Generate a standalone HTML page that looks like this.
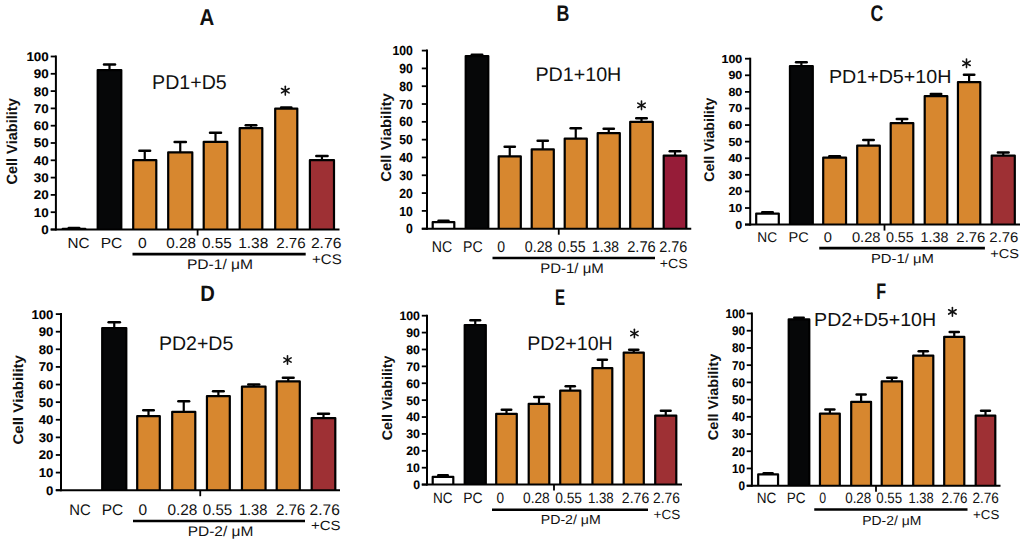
<!DOCTYPE html>
<html><head><meta charset="utf-8"><style>
html,body{margin:0;padding:0;background:#fff;}
body{width:1024px;height:540px;overflow:hidden;}
.t{stroke:#000;stroke-width:0.1px;}
svg{display:block;text-rendering:geometricPrecision;font-family:"Liberation Sans",sans-serif;font-kerning:none;}
</style></head><body>
<svg width="1024" height="540" viewBox="0 0 1024 540">
<rect width="1024" height="540" fill="#fff"/>
<line x1="74.00" y1="229.20" x2="74.00" y2="228.20" stroke="#000" stroke-width="2.2" stroke-linecap="butt"/>
<line x1="68.76" y1="228.00" x2="79.24" y2="228.00" stroke="#000" stroke-width="2.5" stroke-linecap="round"/>
<rect x="62.70" y="228.80" width="22.60" height="0.70" fill="#ffffff"/>
<path d="M62.70,229.50V228.80H85.30V229.50" fill="none" stroke="#000" stroke-width="2.2" stroke-linejoin="round"/>
<line x1="109.50" y1="70.50" x2="109.50" y2="64.75" stroke="#000" stroke-width="2.2" stroke-linecap="butt"/>
<line x1="104.00" y1="64.55" x2="115.00" y2="64.55" stroke="#000" stroke-width="2.5" stroke-linecap="round"/>
<rect x="97.70" y="70.10" width="23.60" height="159.40" fill="#060708"/>
<path d="M97.70,229.50V70.10H121.30V229.50" fill="none" stroke="#000" stroke-width="2.2" stroke-linejoin="round"/>
<line x1="144.75" y1="160.50" x2="144.75" y2="151.00" stroke="#000" stroke-width="2.2" stroke-linecap="butt"/>
<line x1="139.38" y1="150.80" x2="150.12" y2="150.80" stroke="#000" stroke-width="2.5" stroke-linecap="round"/>
<rect x="133.20" y="160.10" width="23.10" height="69.40" fill="#d7872f"/>
<path d="M133.20,229.50V160.10H156.30V229.50" fill="none" stroke="#000" stroke-width="2.2" stroke-linejoin="round"/>
<line x1="180.25" y1="152.75" x2="180.25" y2="142.25" stroke="#000" stroke-width="2.2" stroke-linecap="butt"/>
<line x1="174.62" y1="142.05" x2="185.88" y2="142.05" stroke="#000" stroke-width="2.5" stroke-linecap="round"/>
<rect x="168.20" y="152.35" width="24.10" height="77.15" fill="#d7872f"/>
<path d="M168.20,229.50V152.35H192.30V229.50" fill="none" stroke="#000" stroke-width="2.2" stroke-linejoin="round"/>
<line x1="215.50" y1="142.25" x2="215.50" y2="133.00" stroke="#000" stroke-width="2.2" stroke-linecap="butt"/>
<line x1="210.00" y1="132.80" x2="221.00" y2="132.80" stroke="#000" stroke-width="2.5" stroke-linecap="round"/>
<rect x="203.70" y="141.85" width="23.60" height="87.65" fill="#d7872f"/>
<path d="M203.70,229.50V141.85H227.30V229.50" fill="none" stroke="#000" stroke-width="2.2" stroke-linejoin="round"/>
<line x1="251.00" y1="128.50" x2="251.00" y2="125.50" stroke="#000" stroke-width="2.2" stroke-linecap="butt"/>
<line x1="245.76" y1="125.30" x2="256.24" y2="125.30" stroke="#000" stroke-width="2.5" stroke-linecap="round"/>
<rect x="239.70" y="128.10" width="22.60" height="101.40" fill="#d7872f"/>
<path d="M239.70,229.50V128.10H262.30V229.50" fill="none" stroke="#000" stroke-width="2.2" stroke-linejoin="round"/>
<line x1="286.25" y1="109.00" x2="286.25" y2="107.75" stroke="#000" stroke-width="2.2" stroke-linecap="butt"/>
<line x1="281.14" y1="107.55" x2="291.36" y2="107.55" stroke="#000" stroke-width="2.5" stroke-linecap="round"/>
<rect x="275.20" y="108.60" width="22.10" height="120.90" fill="#d7872f"/>
<path d="M275.20,229.50V108.60H297.30V229.50" fill="none" stroke="#000" stroke-width="2.2" stroke-linejoin="round"/>
<line x1="321.95" y1="160.60" x2="321.95" y2="156.20" stroke="#000" stroke-width="2.2" stroke-linecap="butt"/>
<line x1="316.32" y1="156.00" x2="327.58" y2="156.00" stroke="#000" stroke-width="2.5" stroke-linecap="round"/>
<rect x="309.90" y="160.20" width="24.10" height="69.30" fill="#9e3034"/>
<path d="M309.90,229.50V160.20H334.00V229.50" fill="none" stroke="#000" stroke-width="2.2" stroke-linejoin="round"/>
<line x1="55.90" y1="55.50" x2="55.90" y2="230.50" stroke="#000" stroke-width="2" stroke-linecap="butt"/>
<line x1="50.70" y1="229.50" x2="55.90" y2="229.50" stroke="#000" stroke-width="1.8" stroke-linecap="butt"/>
<text class="t" transform="translate(41.34,233.92) scale(1.0678,1)" font-size="12.57" font-weight="bold">0</text>
<line x1="50.70" y1="212.20" x2="55.90" y2="212.20" stroke="#000" stroke-width="1.8" stroke-linecap="butt"/>
<text class="t" transform="translate(33.87,216.62) scale(1.0678,1)" font-size="12.57" font-weight="bold">10</text>
<line x1="50.70" y1="194.90" x2="55.90" y2="194.90" stroke="#000" stroke-width="1.8" stroke-linecap="butt"/>
<text class="t" transform="translate(33.87,199.32) scale(1.0678,1)" font-size="12.57" font-weight="bold">20</text>
<line x1="50.70" y1="177.60" x2="55.90" y2="177.60" stroke="#000" stroke-width="1.8" stroke-linecap="butt"/>
<text class="t" transform="translate(33.87,182.02) scale(1.0678,1)" font-size="12.57" font-weight="bold">30</text>
<line x1="50.70" y1="160.30" x2="55.90" y2="160.30" stroke="#000" stroke-width="1.8" stroke-linecap="butt"/>
<text class="t" transform="translate(33.87,164.72) scale(1.0678,1)" font-size="12.57" font-weight="bold">40</text>
<line x1="50.70" y1="143.00" x2="55.90" y2="143.00" stroke="#000" stroke-width="1.8" stroke-linecap="butt"/>
<text class="t" transform="translate(33.87,147.42) scale(1.0678,1)" font-size="12.57" font-weight="bold">50</text>
<line x1="50.70" y1="125.70" x2="55.90" y2="125.70" stroke="#000" stroke-width="1.8" stroke-linecap="butt"/>
<text class="t" transform="translate(33.87,130.12) scale(1.0678,1)" font-size="12.57" font-weight="bold">60</text>
<line x1="50.70" y1="108.40" x2="55.90" y2="108.40" stroke="#000" stroke-width="1.8" stroke-linecap="butt"/>
<text class="t" transform="translate(33.87,112.82) scale(1.0678,1)" font-size="12.57" font-weight="bold">70</text>
<line x1="50.70" y1="91.10" x2="55.90" y2="91.10" stroke="#000" stroke-width="1.8" stroke-linecap="butt"/>
<text class="t" transform="translate(33.87,95.52) scale(1.0678,1)" font-size="12.57" font-weight="bold">80</text>
<line x1="50.70" y1="73.80" x2="55.90" y2="73.80" stroke="#000" stroke-width="1.8" stroke-linecap="butt"/>
<text class="t" transform="translate(33.87,78.22) scale(1.0678,1)" font-size="12.57" font-weight="bold">90</text>
<line x1="50.70" y1="56.50" x2="55.90" y2="56.50" stroke="#000" stroke-width="1.8" stroke-linecap="butt"/>
<text class="t" transform="translate(26.41,60.92) scale(1.0678,1)" font-size="12.57" font-weight="bold">100</text>
<line x1="50.70" y1="229.50" x2="339.50" y2="229.50" stroke="#000" stroke-width="2" stroke-linecap="butt"/>
<line x1="197.60" y1="229.50" x2="197.60" y2="235.50" stroke="#000" stroke-width="1.8" stroke-linecap="butt"/>
<text transform="translate(67.45,247.86) scale(1.0486,1)" font-size="14.55" font-weight="normal" fill="#111">NC</text>
<text transform="translate(100.63,247.86) scale(1.0671,1)" font-size="14.55" font-weight="normal" fill="#111">PC</text>
<text transform="translate(137.89,247.86) scale(1.0785,1)" font-size="14.55" font-weight="normal" fill="#111">0</text>
<text transform="translate(166.30,247.86) scale(1.0474,1)" font-size="14.55" font-weight="normal" fill="#111">0.28</text>
<text transform="translate(202.00,247.86) scale(1.0503,1)" font-size="14.55" font-weight="normal" fill="#111">0.55</text>
<text transform="translate(238.22,247.86) scale(1.0612,1)" font-size="14.55" font-weight="normal" fill="#111">1.38</text>
<text transform="translate(276.24,247.86) scale(1.0392,1)" font-size="14.55" font-weight="normal" fill="#111">2.76</text>
<text transform="translate(310.91,247.86) scale(1.0763,1)" font-size="14.55" font-weight="normal" fill="#111">2.76</text>
<text transform="translate(312.07,263.81) scale(1.0736,1)" font-size="13.98" font-weight="normal" fill="#111">+CS</text>
<line x1="132.50" y1="254.20" x2="305.70" y2="254.20" stroke="#000" stroke-width="2.7" stroke-linecap="butt"/>
<text transform="translate(186.92,269.20) scale(1.1137,1)" font-size="14.00" font-weight="normal" fill="#111">PD-1/ μM</text>
<text transform="translate(199.39,25.10) scale(0.8892,1)" font-size="22.97" font-weight="bold" fill="#111">A</text>
<text transform="translate(152.09,88.56) scale(0.9839,1)" font-size="19.92" font-weight="normal" fill="#111">PD1+D5</text>
<line x1="285.30" y1="86.30" x2="285.30" y2="95.10" stroke="#111" stroke-width="1.6" stroke-linecap="round"/>
<line x1="281.49" y1="88.50" x2="289.11" y2="92.90" stroke="#111" stroke-width="1.6" stroke-linecap="round"/>
<line x1="289.11" y1="88.50" x2="281.49" y2="92.90" stroke="#111" stroke-width="1.6" stroke-linecap="round"/>
<text transform="translate(16.80,184.00) rotate(-90) scale(0.9815,1) translate(-0.61,0)" font-size="14.80" font-weight="bold" fill="#111">Cell Viability</text>
<line x1="443.50" y1="222.50" x2="443.50" y2="221.00" stroke="#000" stroke-width="2.2" stroke-linecap="butt"/>
<line x1="438.52" y1="220.80" x2="448.48" y2="220.80" stroke="#000" stroke-width="2.5" stroke-linecap="round"/>
<rect x="432.70" y="222.10" width="21.60" height="6.60" fill="#ffffff"/>
<path d="M432.70,228.70V222.10H454.30V228.70" fill="none" stroke="#000" stroke-width="2.2" stroke-linejoin="round"/>
<line x1="477.00" y1="56.50" x2="477.00" y2="55.00" stroke="#000" stroke-width="2.2" stroke-linecap="butt"/>
<line x1="471.76" y1="54.80" x2="482.24" y2="54.80" stroke="#000" stroke-width="2.5" stroke-linecap="round"/>
<rect x="465.70" y="56.10" width="22.60" height="172.60" fill="#060708"/>
<path d="M465.70,228.70V56.10H488.30V228.70" fill="none" stroke="#000" stroke-width="2.2" stroke-linejoin="round"/>
<line x1="509.75" y1="156.75" x2="509.75" y2="147.00" stroke="#000" stroke-width="2.2" stroke-linecap="butt"/>
<line x1="504.64" y1="146.80" x2="514.86" y2="146.80" stroke="#000" stroke-width="2.5" stroke-linecap="round"/>
<rect x="498.70" y="156.35" width="22.10" height="72.35" fill="#d7872f"/>
<path d="M498.70,228.70V156.35H520.80V228.70" fill="none" stroke="#000" stroke-width="2.2" stroke-linejoin="round"/>
<line x1="542.75" y1="149.75" x2="542.75" y2="141.00" stroke="#000" stroke-width="2.2" stroke-linecap="butt"/>
<line x1="537.64" y1="140.80" x2="547.86" y2="140.80" stroke="#000" stroke-width="2.5" stroke-linecap="round"/>
<rect x="531.70" y="149.35" width="22.10" height="79.35" fill="#d7872f"/>
<path d="M531.70,228.70V149.35H553.80V228.70" fill="none" stroke="#000" stroke-width="2.2" stroke-linejoin="round"/>
<line x1="575.75" y1="139.00" x2="575.75" y2="128.50" stroke="#000" stroke-width="2.2" stroke-linecap="butt"/>
<line x1="570.64" y1="128.30" x2="580.86" y2="128.30" stroke="#000" stroke-width="2.5" stroke-linecap="round"/>
<rect x="564.70" y="138.60" width="22.10" height="90.10" fill="#d7872f"/>
<path d="M564.70,228.70V138.60H586.80V228.70" fill="none" stroke="#000" stroke-width="2.2" stroke-linejoin="round"/>
<line x1="608.75" y1="133.50" x2="608.75" y2="129.00" stroke="#000" stroke-width="2.2" stroke-linecap="butt"/>
<line x1="603.64" y1="128.80" x2="613.86" y2="128.80" stroke="#000" stroke-width="2.5" stroke-linecap="round"/>
<rect x="597.70" y="133.10" width="22.10" height="95.60" fill="#d7872f"/>
<path d="M597.70,228.70V133.10H619.80V228.70" fill="none" stroke="#000" stroke-width="2.2" stroke-linejoin="round"/>
<line x1="641.50" y1="122.25" x2="641.50" y2="118.50" stroke="#000" stroke-width="2.2" stroke-linecap="butt"/>
<line x1="636.26" y1="118.30" x2="646.74" y2="118.30" stroke="#000" stroke-width="2.5" stroke-linecap="round"/>
<rect x="630.20" y="121.85" width="22.60" height="106.85" fill="#d7872f"/>
<path d="M630.20,228.70V121.85H652.80V228.70" fill="none" stroke="#000" stroke-width="2.2" stroke-linejoin="round"/>
<line x1="675.00" y1="156.00" x2="675.00" y2="151.50" stroke="#000" stroke-width="2.2" stroke-linecap="butt"/>
<line x1="669.76" y1="151.30" x2="680.24" y2="151.30" stroke="#000" stroke-width="2.5" stroke-linecap="round"/>
<rect x="663.70" y="155.60" width="22.60" height="73.10" fill="#961c38"/>
<path d="M663.70,228.70V155.60H686.30V228.70" fill="none" stroke="#000" stroke-width="2.2" stroke-linejoin="round"/>
<line x1="427.00" y1="49.60" x2="427.00" y2="229.70" stroke="#000" stroke-width="2" stroke-linecap="butt"/>
<line x1="421.80" y1="228.70" x2="427.00" y2="228.70" stroke="#000" stroke-width="1.8" stroke-linecap="butt"/>
<text class="t" transform="translate(406.06,233.32) scale(0.9294,1)" font-size="13.14" font-weight="bold">0</text>
<line x1="421.80" y1="210.89" x2="427.00" y2="210.89" stroke="#000" stroke-width="1.8" stroke-linecap="butt"/>
<text class="t" transform="translate(399.27,215.51) scale(0.9294,1)" font-size="13.14" font-weight="bold">10</text>
<line x1="421.80" y1="193.08" x2="427.00" y2="193.08" stroke="#000" stroke-width="1.8" stroke-linecap="butt"/>
<text class="t" transform="translate(399.27,197.70) scale(0.9294,1)" font-size="13.14" font-weight="bold">20</text>
<line x1="421.80" y1="175.27" x2="427.00" y2="175.27" stroke="#000" stroke-width="1.8" stroke-linecap="butt"/>
<text class="t" transform="translate(399.27,179.89) scale(0.9294,1)" font-size="13.14" font-weight="bold">30</text>
<line x1="421.80" y1="157.46" x2="427.00" y2="157.46" stroke="#000" stroke-width="1.8" stroke-linecap="butt"/>
<text class="t" transform="translate(399.27,162.08) scale(0.9294,1)" font-size="13.14" font-weight="bold">40</text>
<line x1="421.80" y1="139.65" x2="427.00" y2="139.65" stroke="#000" stroke-width="1.8" stroke-linecap="butt"/>
<text class="t" transform="translate(399.27,144.27) scale(0.9294,1)" font-size="13.14" font-weight="bold">50</text>
<line x1="421.80" y1="121.84" x2="427.00" y2="121.84" stroke="#000" stroke-width="1.8" stroke-linecap="butt"/>
<text class="t" transform="translate(399.27,126.46) scale(0.9294,1)" font-size="13.14" font-weight="bold">60</text>
<line x1="421.80" y1="104.03" x2="427.00" y2="104.03" stroke="#000" stroke-width="1.8" stroke-linecap="butt"/>
<text class="t" transform="translate(399.27,108.65) scale(0.9294,1)" font-size="13.14" font-weight="bold">70</text>
<line x1="421.80" y1="86.22" x2="427.00" y2="86.22" stroke="#000" stroke-width="1.8" stroke-linecap="butt"/>
<text class="t" transform="translate(399.27,90.84) scale(0.9294,1)" font-size="13.14" font-weight="bold">80</text>
<line x1="421.80" y1="68.41" x2="427.00" y2="68.41" stroke="#000" stroke-width="1.8" stroke-linecap="butt"/>
<text class="t" transform="translate(399.27,73.03) scale(0.9294,1)" font-size="13.14" font-weight="bold">90</text>
<line x1="421.80" y1="50.60" x2="427.00" y2="50.60" stroke="#000" stroke-width="1.8" stroke-linecap="butt"/>
<text class="t" transform="translate(392.48,55.22) scale(0.9294,1)" font-size="13.14" font-weight="bold">100</text>
<line x1="421.80" y1="228.70" x2="691.25" y2="228.70" stroke="#000" stroke-width="2" stroke-linecap="butt"/>
<line x1="558.75" y1="228.70" x2="558.75" y2="234.70" stroke="#000" stroke-width="1.8" stroke-linecap="butt"/>
<text transform="translate(431.74,251.85) scale(0.9089,1)" font-size="15.54" font-weight="normal" fill="#111">NC</text>
<text transform="translate(462.99,251.85) scale(0.9104,1)" font-size="15.54" font-weight="normal" fill="#111">PC</text>
<text transform="translate(497.15,251.85) scale(0.9021,1)" font-size="15.54" font-weight="normal" fill="#111">0</text>
<text transform="translate(524.74,251.85) scale(0.9186,1)" font-size="15.54" font-weight="normal" fill="#111">0.28</text>
<text transform="translate(558.05,251.85) scale(0.9110,1)" font-size="15.54" font-weight="normal" fill="#111">0.55</text>
<text transform="translate(592.04,251.85) scale(0.8915,1)" font-size="15.54" font-weight="normal" fill="#111">1.38</text>
<text transform="translate(627.16,251.85) scale(0.9453,1)" font-size="15.54" font-weight="normal" fill="#111">2.76</text>
<text transform="translate(659.17,251.85) scale(0.9279,1)" font-size="15.54" font-weight="normal" fill="#111">2.76</text>
<text transform="translate(659.81,268.32) scale(1.0666,1)" font-size="13.28" font-weight="normal" fill="#111">+CS</text>
<line x1="492.50" y1="258.00" x2="655.00" y2="258.00" stroke="#000" stroke-width="2.7" stroke-linecap="butt"/>
<text transform="translate(540.17,273.00) scale(1.0717,1)" font-size="14.00" font-weight="normal" fill="#111">PD-1/ μM</text>
<text transform="translate(556.50,21.00) scale(0.7933,1)" font-size="22.53" font-weight="bold" fill="#111">B</text>
<text transform="translate(535.38,81.16) scale(1.0041,1)" font-size="19.63" font-weight="normal" fill="#111">PD1+10H</text>
<line x1="641.50" y1="101.00" x2="641.50" y2="109.60" stroke="#111" stroke-width="1.6" stroke-linecap="round"/>
<line x1="637.78" y1="103.15" x2="645.22" y2="107.45" stroke="#111" stroke-width="1.6" stroke-linecap="round"/>
<line x1="645.22" y1="103.15" x2="637.78" y2="107.45" stroke="#111" stroke-width="1.6" stroke-linecap="round"/>
<text transform="translate(390.70,181.20) rotate(-90) scale(1.0419,1) translate(-0.59,0)" font-size="14.30" font-weight="bold" fill="#111">Cell Viability</text>
<line x1="767.50" y1="214.00" x2="767.50" y2="212.50" stroke="#000" stroke-width="2.2" stroke-linecap="butt"/>
<line x1="762.26" y1="212.30" x2="772.74" y2="212.30" stroke="#000" stroke-width="2.5" stroke-linecap="round"/>
<rect x="756.20" y="213.60" width="22.60" height="11.00" fill="#ffffff"/>
<path d="M756.20,224.60V213.60H778.80V224.60" fill="none" stroke="#000" stroke-width="2.2" stroke-linejoin="round"/>
<line x1="801.38" y1="66.50" x2="801.38" y2="62.50" stroke="#000" stroke-width="2.2" stroke-linecap="butt"/>
<line x1="796.07" y1="62.30" x2="806.68" y2="62.30" stroke="#000" stroke-width="2.5" stroke-linecap="round"/>
<rect x="789.95" y="66.10" width="22.85" height="158.50" fill="#060708"/>
<path d="M789.95,224.60V66.10H812.80V224.60" fill="none" stroke="#000" stroke-width="2.2" stroke-linejoin="round"/>
<line x1="834.62" y1="158.00" x2="834.62" y2="156.50" stroke="#000" stroke-width="2.2" stroke-linecap="butt"/>
<line x1="829.32" y1="156.30" x2="839.93" y2="156.30" stroke="#000" stroke-width="2.5" stroke-linecap="round"/>
<rect x="823.20" y="157.60" width="22.85" height="67.00" fill="#d7872f"/>
<path d="M823.20,224.60V157.60H846.05V224.60" fill="none" stroke="#000" stroke-width="2.2" stroke-linejoin="round"/>
<line x1="868.50" y1="146.00" x2="868.50" y2="140.25" stroke="#000" stroke-width="2.2" stroke-linecap="butt"/>
<line x1="863.26" y1="140.05" x2="873.74" y2="140.05" stroke="#000" stroke-width="2.5" stroke-linecap="round"/>
<rect x="857.20" y="145.60" width="22.60" height="79.00" fill="#d7872f"/>
<path d="M857.20,224.60V145.60H879.80V224.60" fill="none" stroke="#000" stroke-width="2.2" stroke-linejoin="round"/>
<line x1="902.00" y1="123.50" x2="902.00" y2="119.25" stroke="#000" stroke-width="2.2" stroke-linecap="butt"/>
<line x1="896.76" y1="119.05" x2="907.24" y2="119.05" stroke="#000" stroke-width="2.5" stroke-linecap="round"/>
<rect x="890.70" y="123.10" width="22.60" height="101.50" fill="#d7872f"/>
<path d="M890.70,224.60V123.10H913.30V224.60" fill="none" stroke="#000" stroke-width="2.2" stroke-linejoin="round"/>
<line x1="936.00" y1="96.50" x2="936.00" y2="94.25" stroke="#000" stroke-width="2.2" stroke-linecap="butt"/>
<line x1="930.76" y1="94.05" x2="941.24" y2="94.05" stroke="#000" stroke-width="2.5" stroke-linecap="round"/>
<rect x="924.70" y="96.10" width="22.60" height="128.50" fill="#d7872f"/>
<path d="M924.70,224.60V96.10H947.30V224.60" fill="none" stroke="#000" stroke-width="2.2" stroke-linejoin="round"/>
<line x1="969.12" y1="82.50" x2="969.12" y2="75.00" stroke="#000" stroke-width="2.2" stroke-linecap="butt"/>
<line x1="963.95" y1="74.80" x2="974.30" y2="74.80" stroke="#000" stroke-width="2.5" stroke-linecap="round"/>
<rect x="957.95" y="82.10" width="22.35" height="142.50" fill="#d7872f"/>
<path d="M957.95,224.60V82.10H980.30V224.60" fill="none" stroke="#000" stroke-width="2.2" stroke-linejoin="round"/>
<line x1="1003.25" y1="156.00" x2="1003.25" y2="152.75" stroke="#000" stroke-width="2.2" stroke-linecap="butt"/>
<line x1="997.88" y1="152.55" x2="1008.62" y2="152.55" stroke="#000" stroke-width="2.5" stroke-linecap="round"/>
<rect x="991.70" y="155.60" width="23.10" height="69.00" fill="#9e3034"/>
<path d="M991.70,224.60V155.60H1014.80V224.60" fill="none" stroke="#000" stroke-width="2.2" stroke-linejoin="round"/>
<line x1="750.20" y1="57.70" x2="750.20" y2="225.60" stroke="#000" stroke-width="2" stroke-linecap="butt"/>
<line x1="745.00" y1="224.60" x2="750.20" y2="224.60" stroke="#000" stroke-width="1.8" stroke-linecap="butt"/>
<text class="t" transform="translate(735.33,228.53) scale(1.0762,1)" font-size="11.58" font-weight="bold">0</text>
<line x1="745.00" y1="208.01" x2="750.20" y2="208.01" stroke="#000" stroke-width="1.8" stroke-linecap="butt"/>
<text class="t" transform="translate(728.40,211.94) scale(1.0762,1)" font-size="11.58" font-weight="bold">10</text>
<line x1="745.00" y1="191.42" x2="750.20" y2="191.42" stroke="#000" stroke-width="1.8" stroke-linecap="butt"/>
<text class="t" transform="translate(728.40,195.35) scale(1.0762,1)" font-size="11.58" font-weight="bold">20</text>
<line x1="745.00" y1="174.83" x2="750.20" y2="174.83" stroke="#000" stroke-width="1.8" stroke-linecap="butt"/>
<text class="t" transform="translate(728.40,178.76) scale(1.0762,1)" font-size="11.58" font-weight="bold">30</text>
<line x1="745.00" y1="158.24" x2="750.20" y2="158.24" stroke="#000" stroke-width="1.8" stroke-linecap="butt"/>
<text class="t" transform="translate(728.40,162.17) scale(1.0762,1)" font-size="11.58" font-weight="bold">40</text>
<line x1="745.00" y1="141.65" x2="750.20" y2="141.65" stroke="#000" stroke-width="1.8" stroke-linecap="butt"/>
<text class="t" transform="translate(728.40,145.58) scale(1.0762,1)" font-size="11.58" font-weight="bold">50</text>
<line x1="745.00" y1="125.06" x2="750.20" y2="125.06" stroke="#000" stroke-width="1.8" stroke-linecap="butt"/>
<text class="t" transform="translate(728.40,128.99) scale(1.0762,1)" font-size="11.58" font-weight="bold">60</text>
<line x1="745.00" y1="108.47" x2="750.20" y2="108.47" stroke="#000" stroke-width="1.8" stroke-linecap="butt"/>
<text class="t" transform="translate(728.40,112.40) scale(1.0762,1)" font-size="11.58" font-weight="bold">70</text>
<line x1="745.00" y1="91.88" x2="750.20" y2="91.88" stroke="#000" stroke-width="1.8" stroke-linecap="butt"/>
<text class="t" transform="translate(728.40,95.81) scale(1.0762,1)" font-size="11.58" font-weight="bold">80</text>
<line x1="745.00" y1="75.29" x2="750.20" y2="75.29" stroke="#000" stroke-width="1.8" stroke-linecap="butt"/>
<text class="t" transform="translate(728.40,79.22) scale(1.0762,1)" font-size="11.58" font-weight="bold">90</text>
<line x1="745.00" y1="58.70" x2="750.20" y2="58.70" stroke="#000" stroke-width="1.8" stroke-linecap="butt"/>
<text class="t" transform="translate(721.47,62.63) scale(1.0762,1)" font-size="11.58" font-weight="bold">100</text>
<line x1="745.00" y1="224.60" x2="1020.00" y2="224.60" stroke="#000" stroke-width="2" stroke-linecap="butt"/>
<line x1="884.50" y1="224.60" x2="884.50" y2="230.60" stroke="#000" stroke-width="1.8" stroke-linecap="butt"/>
<text transform="translate(757.27,242.26) scale(0.9731,1)" font-size="14.12" font-weight="normal" fill="#111">NC</text>
<text transform="translate(788.46,242.26) scale(1.0293,1)" font-size="14.12" font-weight="normal" fill="#111">PC</text>
<text transform="translate(823.63,242.26) scale(1.0368,1)" font-size="14.12" font-weight="normal" fill="#111">0</text>
<text transform="translate(851.93,242.26) scale(1.0409,1)" font-size="14.12" font-weight="normal" fill="#111">0.28</text>
<text transform="translate(885.94,242.26) scale(1.0135,1)" font-size="14.12" font-weight="normal" fill="#111">0.55</text>
<text transform="translate(920.61,242.26) scale(1.0116,1)" font-size="14.12" font-weight="normal" fill="#111">1.38</text>
<text transform="translate(956.35,242.26) scale(1.0551,1)" font-size="14.12" font-weight="normal" fill="#111">2.76</text>
<text transform="translate(989.35,242.26) scale(1.0589,1)" font-size="14.12" font-weight="normal" fill="#111">2.76</text>
<text transform="translate(990.19,258.02) scale(1.1349,1)" font-size="12.85" font-weight="normal" fill="#111">+CS</text>
<line x1="819.25" y1="248.20" x2="984.90" y2="248.20" stroke="#000" stroke-width="2.7" stroke-linecap="butt"/>
<text transform="translate(870.93,262.50) scale(1.1400,1)" font-size="13.00" font-weight="normal" fill="#111">PD-1/ μM</text>
<text transform="translate(870.47,20.60) scale(0.7891,1)" font-size="22.49" font-weight="bold" fill="#111">C</text>
<text transform="translate(828.89,83.47) scale(1.0397,1)" font-size="18.93" font-weight="normal" fill="#111">PD1+D5+10H</text>
<line x1="966.50" y1="59.00" x2="966.50" y2="67.60" stroke="#111" stroke-width="1.6" stroke-linecap="round"/>
<line x1="962.78" y1="61.15" x2="970.22" y2="65.45" stroke="#111" stroke-width="1.6" stroke-linecap="round"/>
<line x1="970.22" y1="61.15" x2="962.78" y2="65.45" stroke="#111" stroke-width="1.6" stroke-linecap="round"/>
<text transform="translate(713.90,181.10) rotate(-90) scale(1.0085,1) translate(-0.57,0)" font-size="14.00" font-weight="bold" fill="#111">Cell Viability</text>
<line x1="114.25" y1="328.50" x2="114.25" y2="322.50" stroke="#000" stroke-width="2.2" stroke-linecap="butt"/>
<line x1="108.62" y1="322.30" x2="119.88" y2="322.30" stroke="#000" stroke-width="2.5" stroke-linecap="round"/>
<rect x="102.20" y="328.10" width="24.10" height="162.10" fill="#060708"/>
<path d="M102.20,490.20V328.10H126.30V490.20" fill="none" stroke="#000" stroke-width="2.2" stroke-linejoin="round"/>
<line x1="148.50" y1="416.50" x2="148.50" y2="410.50" stroke="#000" stroke-width="2.2" stroke-linecap="butt"/>
<line x1="143.26" y1="410.30" x2="153.74" y2="410.30" stroke="#000" stroke-width="2.5" stroke-linecap="round"/>
<rect x="137.20" y="416.10" width="22.60" height="74.10" fill="#d7872f"/>
<path d="M137.20,490.20V416.10H159.80V490.20" fill="none" stroke="#000" stroke-width="2.2" stroke-linejoin="round"/>
<line x1="183.75" y1="412.25" x2="183.75" y2="401.50" stroke="#000" stroke-width="2.2" stroke-linecap="butt"/>
<line x1="178.38" y1="401.30" x2="189.12" y2="401.30" stroke="#000" stroke-width="2.5" stroke-linecap="round"/>
<rect x="172.20" y="411.85" width="23.10" height="78.35" fill="#d7872f"/>
<path d="M172.20,490.20V411.85H195.30V490.20" fill="none" stroke="#000" stroke-width="2.2" stroke-linejoin="round"/>
<line x1="218.38" y1="396.50" x2="218.38" y2="391.50" stroke="#000" stroke-width="2.2" stroke-linecap="butt"/>
<line x1="213.07" y1="391.30" x2="223.68" y2="391.30" stroke="#000" stroke-width="2.5" stroke-linecap="round"/>
<rect x="206.95" y="396.10" width="22.85" height="94.10" fill="#d7872f"/>
<path d="M206.95,490.20V396.10H229.80V490.20" fill="none" stroke="#000" stroke-width="2.2" stroke-linejoin="round"/>
<line x1="253.75" y1="387.00" x2="253.75" y2="384.75" stroke="#000" stroke-width="2.2" stroke-linecap="butt"/>
<line x1="248.25" y1="384.55" x2="259.25" y2="384.55" stroke="#000" stroke-width="2.5" stroke-linecap="round"/>
<rect x="241.95" y="386.60" width="23.60" height="103.60" fill="#d7872f"/>
<path d="M241.95,490.20V386.60H265.55V490.20" fill="none" stroke="#000" stroke-width="2.2" stroke-linejoin="round"/>
<line x1="288.25" y1="381.75" x2="288.25" y2="378.00" stroke="#000" stroke-width="2.2" stroke-linecap="butt"/>
<line x1="282.88" y1="377.80" x2="293.62" y2="377.80" stroke="#000" stroke-width="2.5" stroke-linecap="round"/>
<rect x="276.70" y="381.35" width="23.10" height="108.85" fill="#d7872f"/>
<path d="M276.70,490.20V381.35H299.80V490.20" fill="none" stroke="#000" stroke-width="2.2" stroke-linejoin="round"/>
<line x1="323.50" y1="418.50" x2="323.50" y2="414.00" stroke="#000" stroke-width="2.2" stroke-linecap="butt"/>
<line x1="318.00" y1="413.80" x2="329.00" y2="413.80" stroke="#000" stroke-width="2.5" stroke-linecap="round"/>
<rect x="311.70" y="418.10" width="23.60" height="72.10" fill="#9e3034"/>
<path d="M311.70,490.20V418.10H335.30V490.20" fill="none" stroke="#000" stroke-width="2.2" stroke-linejoin="round"/>
<line x1="61.00" y1="313.10" x2="61.00" y2="491.20" stroke="#000" stroke-width="2" stroke-linecap="butt"/>
<line x1="55.80" y1="490.20" x2="61.00" y2="490.20" stroke="#000" stroke-width="1.8" stroke-linecap="butt"/>
<text class="t" transform="translate(46.07,494.62) scale(1.0475,1)" font-size="12.57" font-weight="bold">0</text>
<line x1="55.80" y1="472.59" x2="61.00" y2="472.59" stroke="#000" stroke-width="1.8" stroke-linecap="butt"/>
<text class="t" transform="translate(38.74,477.01) scale(1.0475,1)" font-size="12.57" font-weight="bold">10</text>
<line x1="55.80" y1="454.98" x2="61.00" y2="454.98" stroke="#000" stroke-width="1.8" stroke-linecap="butt"/>
<text class="t" transform="translate(38.74,459.40) scale(1.0475,1)" font-size="12.57" font-weight="bold">20</text>
<line x1="55.80" y1="437.37" x2="61.00" y2="437.37" stroke="#000" stroke-width="1.8" stroke-linecap="butt"/>
<text class="t" transform="translate(38.74,441.79) scale(1.0475,1)" font-size="12.57" font-weight="bold">30</text>
<line x1="55.80" y1="419.76" x2="61.00" y2="419.76" stroke="#000" stroke-width="1.8" stroke-linecap="butt"/>
<text class="t" transform="translate(38.74,424.18) scale(1.0475,1)" font-size="12.57" font-weight="bold">40</text>
<line x1="55.80" y1="402.15" x2="61.00" y2="402.15" stroke="#000" stroke-width="1.8" stroke-linecap="butt"/>
<text class="t" transform="translate(38.74,406.57) scale(1.0475,1)" font-size="12.57" font-weight="bold">50</text>
<line x1="55.80" y1="384.54" x2="61.00" y2="384.54" stroke="#000" stroke-width="1.8" stroke-linecap="butt"/>
<text class="t" transform="translate(38.74,388.96) scale(1.0475,1)" font-size="12.57" font-weight="bold">60</text>
<line x1="55.80" y1="366.93" x2="61.00" y2="366.93" stroke="#000" stroke-width="1.8" stroke-linecap="butt"/>
<text class="t" transform="translate(38.74,371.35) scale(1.0475,1)" font-size="12.57" font-weight="bold">70</text>
<line x1="55.80" y1="349.32" x2="61.00" y2="349.32" stroke="#000" stroke-width="1.8" stroke-linecap="butt"/>
<text class="t" transform="translate(38.74,353.74) scale(1.0475,1)" font-size="12.57" font-weight="bold">80</text>
<line x1="55.80" y1="331.71" x2="61.00" y2="331.71" stroke="#000" stroke-width="1.8" stroke-linecap="butt"/>
<text class="t" transform="translate(38.74,336.13) scale(1.0475,1)" font-size="12.57" font-weight="bold">90</text>
<line x1="55.80" y1="314.10" x2="61.00" y2="314.10" stroke="#000" stroke-width="1.8" stroke-linecap="butt"/>
<text class="t" transform="translate(31.42,318.52) scale(1.0475,1)" font-size="12.57" font-weight="bold">100</text>
<line x1="55.80" y1="490.20" x2="340.00" y2="490.20" stroke="#000" stroke-width="2" stroke-linecap="butt"/>
<line x1="200.25" y1="490.20" x2="200.25" y2="496.20" stroke="#000" stroke-width="1.8" stroke-linecap="butt"/>
<text transform="translate(69.18,514.75) scale(0.9663,1)" font-size="15.40" font-weight="normal" fill="#111">NC</text>
<text transform="translate(101.63,514.75) scale(1.0083,1)" font-size="15.40" font-weight="normal" fill="#111">PC</text>
<text transform="translate(138.60,514.75) scale(1.0055,1)" font-size="15.40" font-weight="normal" fill="#111">0</text>
<text transform="translate(167.40,514.75) scale(1.0002,1)" font-size="15.40" font-weight="normal" fill="#111">0.28</text>
<text transform="translate(202.81,514.75) scale(0.9820,1)" font-size="15.40" font-weight="normal" fill="#111">0.55</text>
<text transform="translate(238.88,514.75) scale(0.9530,1)" font-size="15.40" font-weight="normal" fill="#111">1.38</text>
<text transform="translate(275.89,514.75) scale(0.9803,1)" font-size="15.40" font-weight="normal" fill="#111">2.76</text>
<text transform="translate(309.62,514.75) scale(1.0066,1)" font-size="15.40" font-weight="normal" fill="#111">2.76</text>
<text transform="translate(310.97,530.32) scale(1.1308,1)" font-size="13.28" font-weight="normal" fill="#111">+CS</text>
<line x1="133.00" y1="521.00" x2="305.00" y2="521.00" stroke="#000" stroke-width="2.7" stroke-linecap="butt"/>
<text transform="translate(187.63,536.00) scale(1.1067,1)" font-size="14.00" font-weight="normal" fill="#111">PD-2/ μM</text>
<text transform="translate(200.15,301.10) scale(0.9092,1)" font-size="22.24" font-weight="bold" fill="#111">D</text>
<text transform="translate(158.89,350.36) scale(0.9970,1)" font-size="19.63" font-weight="normal" fill="#111">PD2+D5</text>
<line x1="287.50" y1="355.80" x2="287.50" y2="364.20" stroke="#111" stroke-width="1.6" stroke-linecap="round"/>
<line x1="283.86" y1="357.90" x2="291.14" y2="362.10" stroke="#111" stroke-width="1.6" stroke-linecap="round"/>
<line x1="291.14" y1="357.90" x2="283.86" y2="362.10" stroke="#111" stroke-width="1.6" stroke-linecap="round"/>
<text transform="translate(22.90,444.00) rotate(-90) scale(1.0763,1) translate(-0.57,0)" font-size="14.00" font-weight="bold" fill="#111">Cell Viability</text>
<line x1="443.00" y1="477.25" x2="443.00" y2="475.50" stroke="#000" stroke-width="2.2" stroke-linecap="butt"/>
<line x1="438.28" y1="475.30" x2="447.72" y2="475.30" stroke="#000" stroke-width="2.5" stroke-linecap="round"/>
<rect x="432.70" y="476.85" width="20.60" height="7.75" fill="#ffffff"/>
<path d="M432.70,484.60V476.85H453.30V484.60" fill="none" stroke="#000" stroke-width="2.2" stroke-linejoin="round"/>
<line x1="475.25" y1="325.50" x2="475.25" y2="320.50" stroke="#000" stroke-width="2.2" stroke-linecap="butt"/>
<line x1="470.40" y1="320.30" x2="480.10" y2="320.30" stroke="#000" stroke-width="2.5" stroke-linecap="round"/>
<rect x="464.70" y="325.10" width="21.10" height="159.50" fill="#060708"/>
<path d="M464.70,484.60V325.10H485.80V484.60" fill="none" stroke="#000" stroke-width="2.2" stroke-linejoin="round"/>
<line x1="506.50" y1="414.25" x2="506.50" y2="410.00" stroke="#000" stroke-width="2.2" stroke-linecap="butt"/>
<line x1="501.78" y1="409.80" x2="511.22" y2="409.80" stroke="#000" stroke-width="2.5" stroke-linecap="round"/>
<rect x="496.20" y="413.85" width="20.60" height="70.75" fill="#d7872f"/>
<path d="M496.20,484.60V413.85H516.80V484.60" fill="none" stroke="#000" stroke-width="2.2" stroke-linejoin="round"/>
<line x1="539.00" y1="404.25" x2="539.00" y2="397.25" stroke="#000" stroke-width="2.2" stroke-linecap="butt"/>
<line x1="534.28" y1="397.05" x2="543.72" y2="397.05" stroke="#000" stroke-width="2.5" stroke-linecap="round"/>
<rect x="528.70" y="403.85" width="20.60" height="80.75" fill="#d7872f"/>
<path d="M528.70,484.60V403.85H549.30V484.60" fill="none" stroke="#000" stroke-width="2.2" stroke-linejoin="round"/>
<line x1="570.25" y1="391.00" x2="570.25" y2="386.50" stroke="#000" stroke-width="2.2" stroke-linecap="butt"/>
<line x1="565.66" y1="386.30" x2="574.84" y2="386.30" stroke="#000" stroke-width="2.5" stroke-linecap="round"/>
<rect x="560.20" y="390.60" width="20.10" height="94.00" fill="#d7872f"/>
<path d="M560.20,484.60V390.60H580.30V484.60" fill="none" stroke="#000" stroke-width="2.2" stroke-linejoin="round"/>
<line x1="602.38" y1="368.50" x2="602.38" y2="360.00" stroke="#000" stroke-width="2.2" stroke-linecap="butt"/>
<line x1="597.85" y1="359.80" x2="606.90" y2="359.80" stroke="#000" stroke-width="2.5" stroke-linecap="round"/>
<rect x="592.45" y="368.10" width="19.85" height="116.50" fill="#d7872f"/>
<path d="M592.45,484.60V368.10H612.30V484.60" fill="none" stroke="#000" stroke-width="2.2" stroke-linejoin="round"/>
<line x1="633.75" y1="353.00" x2="633.75" y2="350.00" stroke="#000" stroke-width="2.2" stroke-linecap="butt"/>
<line x1="629.16" y1="349.80" x2="638.34" y2="349.80" stroke="#000" stroke-width="2.5" stroke-linecap="round"/>
<rect x="623.70" y="352.60" width="20.10" height="132.00" fill="#d7872f"/>
<path d="M623.70,484.60V352.60H643.80V484.60" fill="none" stroke="#000" stroke-width="2.2" stroke-linejoin="round"/>
<line x1="665.75" y1="416.00" x2="665.75" y2="411.00" stroke="#000" stroke-width="2.2" stroke-linecap="butt"/>
<line x1="660.90" y1="410.80" x2="670.60" y2="410.80" stroke="#000" stroke-width="2.5" stroke-linecap="round"/>
<rect x="655.20" y="415.60" width="21.10" height="69.00" fill="#9e3034"/>
<path d="M655.20,484.60V415.60H676.30V484.60" fill="none" stroke="#000" stroke-width="2.2" stroke-linejoin="round"/>
<line x1="427.00" y1="314.70" x2="427.00" y2="485.60" stroke="#000" stroke-width="2" stroke-linecap="butt"/>
<line x1="421.80" y1="484.60" x2="427.00" y2="484.60" stroke="#000" stroke-width="1.8" stroke-linecap="butt"/>
<text class="t" transform="translate(413.13,489.03) scale(0.9987,1)" font-size="12.29" font-weight="bold">0</text>
<line x1="421.80" y1="467.71" x2="427.00" y2="467.71" stroke="#000" stroke-width="1.8" stroke-linecap="butt"/>
<text class="t" transform="translate(406.30,472.14) scale(0.9987,1)" font-size="12.29" font-weight="bold">10</text>
<line x1="421.80" y1="450.82" x2="427.00" y2="450.82" stroke="#000" stroke-width="1.8" stroke-linecap="butt"/>
<text class="t" transform="translate(406.30,455.25) scale(0.9987,1)" font-size="12.29" font-weight="bold">20</text>
<line x1="421.80" y1="433.93" x2="427.00" y2="433.93" stroke="#000" stroke-width="1.8" stroke-linecap="butt"/>
<text class="t" transform="translate(406.30,438.36) scale(0.9987,1)" font-size="12.29" font-weight="bold">30</text>
<line x1="421.80" y1="417.04" x2="427.00" y2="417.04" stroke="#000" stroke-width="1.8" stroke-linecap="butt"/>
<text class="t" transform="translate(406.30,421.47) scale(0.9987,1)" font-size="12.29" font-weight="bold">40</text>
<line x1="421.80" y1="400.15" x2="427.00" y2="400.15" stroke="#000" stroke-width="1.8" stroke-linecap="butt"/>
<text class="t" transform="translate(406.30,404.58) scale(0.9987,1)" font-size="12.29" font-weight="bold">50</text>
<line x1="421.80" y1="383.26" x2="427.00" y2="383.26" stroke="#000" stroke-width="1.8" stroke-linecap="butt"/>
<text class="t" transform="translate(406.30,387.69) scale(0.9987,1)" font-size="12.29" font-weight="bold">60</text>
<line x1="421.80" y1="366.37" x2="427.00" y2="366.37" stroke="#000" stroke-width="1.8" stroke-linecap="butt"/>
<text class="t" transform="translate(406.30,370.80) scale(0.9987,1)" font-size="12.29" font-weight="bold">70</text>
<line x1="421.80" y1="349.48" x2="427.00" y2="349.48" stroke="#000" stroke-width="1.8" stroke-linecap="butt"/>
<text class="t" transform="translate(406.30,353.91) scale(0.9987,1)" font-size="12.29" font-weight="bold">80</text>
<line x1="421.80" y1="332.59" x2="427.00" y2="332.59" stroke="#000" stroke-width="1.8" stroke-linecap="butt"/>
<text class="t" transform="translate(406.30,337.02) scale(0.9987,1)" font-size="12.29" font-weight="bold">90</text>
<line x1="421.80" y1="315.70" x2="427.00" y2="315.70" stroke="#000" stroke-width="1.8" stroke-linecap="butt"/>
<text class="t" transform="translate(399.48,320.13) scale(0.9987,1)" font-size="12.29" font-weight="bold">100</text>
<line x1="421.80" y1="484.60" x2="682.00" y2="484.60" stroke="#000" stroke-width="2" stroke-linecap="butt"/>
<line x1="554.00" y1="484.60" x2="554.00" y2="490.60" stroke="#000" stroke-width="1.8" stroke-linecap="butt"/>
<text transform="translate(433.04,503.35) scale(0.9054,1)" font-size="14.97" font-weight="normal" fill="#111">NC</text>
<text transform="translate(463.26,503.35) scale(0.9316,1)" font-size="14.97" font-weight="normal" fill="#111">PC</text>
<text transform="translate(496.57,503.35) scale(0.9082,1)" font-size="14.97" font-weight="normal" fill="#111">0</text>
<text transform="translate(522.96,503.35) scale(0.9210,1)" font-size="14.97" font-weight="normal" fill="#111">0.28</text>
<text transform="translate(555.16,503.35) scale(0.9203,1)" font-size="14.97" font-weight="normal" fill="#111">0.55</text>
<text transform="translate(587.89,503.35) scale(0.8849,1)" font-size="14.97" font-weight="normal" fill="#111">1.38</text>
<text transform="translate(621.79,503.35) scale(0.9413,1)" font-size="14.97" font-weight="normal" fill="#111">2.76</text>
<text transform="translate(653.01,503.35) scale(0.9196,1)" font-size="14.97" font-weight="normal" fill="#111">2.76</text>
<text transform="translate(653.54,518.82) scale(1.0335,1)" font-size="13.14" font-weight="normal" fill="#111">+CS</text>
<line x1="492.00" y1="509.75" x2="648.00" y2="509.75" stroke="#000" stroke-width="2.7" stroke-linecap="butt"/>
<text transform="translate(540.74,524.00) scale(1.0881,1)" font-size="13.00" font-weight="normal" fill="#111">PD-2/ μM</text>
<text transform="translate(554.99,304.60) scale(0.6725,1)" font-size="22.53" font-weight="bold" fill="#111">E</text>
<text transform="translate(527.19,350.06) scale(1.0053,1)" font-size="19.49" font-weight="normal" fill="#111">PD2+10H</text>
<line x1="634.40" y1="329.30" x2="634.40" y2="337.70" stroke="#111" stroke-width="1.6" stroke-linecap="round"/>
<line x1="630.76" y1="331.40" x2="638.04" y2="335.60" stroke="#111" stroke-width="1.6" stroke-linecap="round"/>
<line x1="638.04" y1="331.40" x2="630.76" y2="335.60" stroke="#111" stroke-width="1.6" stroke-linecap="round"/>
<text transform="translate(392.20,439.60) rotate(-90) scale(1.0170,1) translate(-0.57,0)" font-size="14.00" font-weight="bold" fill="#111">Cell Viability</text>
<line x1="768.12" y1="474.75" x2="768.12" y2="473.50" stroke="#000" stroke-width="2.2" stroke-linecap="butt"/>
<line x1="763.60" y1="473.30" x2="772.65" y2="473.30" stroke="#000" stroke-width="2.5" stroke-linecap="round"/>
<rect x="758.20" y="474.35" width="19.85" height="11.35" fill="#ffffff"/>
<path d="M758.20,485.70V474.35H778.05V485.70" fill="none" stroke="#000" stroke-width="2.2" stroke-linejoin="round"/>
<line x1="799.00" y1="319.75" x2="799.00" y2="318.00" stroke="#000" stroke-width="2.2" stroke-linecap="butt"/>
<line x1="794.28" y1="317.80" x2="803.72" y2="317.80" stroke="#000" stroke-width="2.5" stroke-linecap="round"/>
<rect x="788.70" y="319.35" width="20.60" height="166.35" fill="#060708"/>
<path d="M788.70,485.70V319.35H809.30V485.70" fill="none" stroke="#000" stroke-width="2.2" stroke-linejoin="round"/>
<line x1="829.88" y1="414.00" x2="829.88" y2="409.75" stroke="#000" stroke-width="2.2" stroke-linecap="butt"/>
<line x1="825.35" y1="409.55" x2="834.40" y2="409.55" stroke="#000" stroke-width="2.5" stroke-linecap="round"/>
<rect x="819.95" y="413.60" width="19.85" height="72.10" fill="#d7872f"/>
<path d="M819.95,485.70V413.60H839.80V485.70" fill="none" stroke="#000" stroke-width="2.2" stroke-linejoin="round"/>
<line x1="861.12" y1="402.25" x2="861.12" y2="394.75" stroke="#000" stroke-width="2.2" stroke-linecap="butt"/>
<line x1="856.60" y1="394.55" x2="865.65" y2="394.55" stroke="#000" stroke-width="2.5" stroke-linecap="round"/>
<rect x="851.20" y="401.85" width="19.85" height="83.85" fill="#d7872f"/>
<path d="M851.20,485.70V401.85H871.05V485.70" fill="none" stroke="#000" stroke-width="2.2" stroke-linejoin="round"/>
<line x1="891.88" y1="381.75" x2="891.88" y2="378.00" stroke="#000" stroke-width="2.2" stroke-linecap="butt"/>
<line x1="887.22" y1="377.80" x2="896.53" y2="377.80" stroke="#000" stroke-width="2.5" stroke-linecap="round"/>
<rect x="881.70" y="381.35" width="20.35" height="104.35" fill="#d7872f"/>
<path d="M881.70,485.70V381.35H902.05V485.70" fill="none" stroke="#000" stroke-width="2.2" stroke-linejoin="round"/>
<line x1="923.25" y1="356.00" x2="923.25" y2="351.50" stroke="#000" stroke-width="2.2" stroke-linecap="butt"/>
<line x1="918.66" y1="351.30" x2="927.84" y2="351.30" stroke="#000" stroke-width="2.5" stroke-linecap="round"/>
<rect x="913.20" y="355.60" width="20.10" height="130.10" fill="#d7872f"/>
<path d="M913.20,485.70V355.60H933.30V485.70" fill="none" stroke="#000" stroke-width="2.2" stroke-linejoin="round"/>
<line x1="954.25" y1="337.25" x2="954.25" y2="332.25" stroke="#000" stroke-width="2.2" stroke-linecap="butt"/>
<line x1="949.66" y1="332.05" x2="958.84" y2="332.05" stroke="#000" stroke-width="2.5" stroke-linecap="round"/>
<rect x="944.20" y="336.85" width="20.10" height="148.85" fill="#d7872f"/>
<path d="M944.20,485.70V336.85H964.30V485.70" fill="none" stroke="#000" stroke-width="2.2" stroke-linejoin="round"/>
<line x1="985.50" y1="416.00" x2="985.50" y2="411.00" stroke="#000" stroke-width="2.2" stroke-linecap="butt"/>
<line x1="981.04" y1="410.80" x2="989.96" y2="410.80" stroke="#000" stroke-width="2.5" stroke-linecap="round"/>
<rect x="975.70" y="415.60" width="19.60" height="70.10" fill="#9e3034"/>
<path d="M975.70,485.70V415.60H995.30V485.70" fill="none" stroke="#000" stroke-width="2.2" stroke-linejoin="round"/>
<line x1="751.90" y1="312.50" x2="751.90" y2="486.70" stroke="#000" stroke-width="2" stroke-linecap="butt"/>
<line x1="746.70" y1="485.70" x2="751.90" y2="485.70" stroke="#000" stroke-width="1.8" stroke-linecap="butt"/>
<text class="t" transform="translate(738.49,490.12) scale(0.9356,1)" font-size="12.57" font-weight="bold">0</text>
<line x1="746.70" y1="468.48" x2="751.90" y2="468.48" stroke="#000" stroke-width="1.8" stroke-linecap="butt"/>
<text class="t" transform="translate(731.95,472.90) scale(0.9356,1)" font-size="12.57" font-weight="bold">10</text>
<line x1="746.70" y1="451.26" x2="751.90" y2="451.26" stroke="#000" stroke-width="1.8" stroke-linecap="butt"/>
<text class="t" transform="translate(731.95,455.68) scale(0.9356,1)" font-size="12.57" font-weight="bold">20</text>
<line x1="746.70" y1="434.04" x2="751.90" y2="434.04" stroke="#000" stroke-width="1.8" stroke-linecap="butt"/>
<text class="t" transform="translate(731.95,438.46) scale(0.9356,1)" font-size="12.57" font-weight="bold">30</text>
<line x1="746.70" y1="416.82" x2="751.90" y2="416.82" stroke="#000" stroke-width="1.8" stroke-linecap="butt"/>
<text class="t" transform="translate(731.95,421.24) scale(0.9356,1)" font-size="12.57" font-weight="bold">40</text>
<line x1="746.70" y1="399.60" x2="751.90" y2="399.60" stroke="#000" stroke-width="1.8" stroke-linecap="butt"/>
<text class="t" transform="translate(731.95,404.02) scale(0.9356,1)" font-size="12.57" font-weight="bold">50</text>
<line x1="746.70" y1="382.38" x2="751.90" y2="382.38" stroke="#000" stroke-width="1.8" stroke-linecap="butt"/>
<text class="t" transform="translate(731.95,386.80) scale(0.9356,1)" font-size="12.57" font-weight="bold">60</text>
<line x1="746.70" y1="365.16" x2="751.90" y2="365.16" stroke="#000" stroke-width="1.8" stroke-linecap="butt"/>
<text class="t" transform="translate(731.95,369.58) scale(0.9356,1)" font-size="12.57" font-weight="bold">70</text>
<line x1="746.70" y1="347.94" x2="751.90" y2="347.94" stroke="#000" stroke-width="1.8" stroke-linecap="butt"/>
<text class="t" transform="translate(731.95,352.36) scale(0.9356,1)" font-size="12.57" font-weight="bold">80</text>
<line x1="746.70" y1="330.72" x2="751.90" y2="330.72" stroke="#000" stroke-width="1.8" stroke-linecap="butt"/>
<text class="t" transform="translate(731.95,335.14) scale(0.9356,1)" font-size="12.57" font-weight="bold">90</text>
<line x1="746.70" y1="313.50" x2="751.90" y2="313.50" stroke="#000" stroke-width="1.8" stroke-linecap="butt"/>
<text class="t" transform="translate(725.41,317.92) scale(0.9356,1)" font-size="12.57" font-weight="bold">100</text>
<line x1="746.70" y1="485.70" x2="1000.50" y2="485.70" stroke="#000" stroke-width="2" stroke-linecap="butt"/>
<line x1="876.00" y1="485.70" x2="876.00" y2="491.70" stroke="#000" stroke-width="1.8" stroke-linecap="butt"/>
<text transform="translate(756.79,503.35) scale(0.9054,1)" font-size="14.97" font-weight="normal" fill="#111">NC</text>
<text transform="translate(786.79,503.35) scale(0.9053,1)" font-size="14.97" font-weight="normal" fill="#111">PC</text>
<text transform="translate(819.22,503.35) scale(0.8244,1)" font-size="14.97" font-weight="normal" fill="#111">0</text>
<text transform="translate(845.18,503.35) scale(0.8959,1)" font-size="14.97" font-weight="normal" fill="#111">0.28</text>
<text transform="translate(876.28,503.35) scale(0.8881,1)" font-size="14.97" font-weight="normal" fill="#111">0.55</text>
<text transform="translate(908.62,503.35) scale(0.8593,1)" font-size="14.97" font-weight="normal" fill="#111">1.38</text>
<text transform="translate(941.53,503.35) scale(0.8908,1)" font-size="14.97" font-weight="normal" fill="#111">2.76</text>
<text transform="translate(972.42,503.35) scale(0.9052,1)" font-size="14.97" font-weight="normal" fill="#111">2.76</text>
<text transform="translate(973.05,519.12) scale(1.0355,1)" font-size="12.85" font-weight="normal" fill="#111">+CS</text>
<line x1="814.25" y1="509.50" x2="967.50" y2="509.50" stroke="#000" stroke-width="2.7" stroke-linecap="butt"/>
<text transform="translate(862.26,524.50) scale(1.0692,1)" font-size="13.00" font-weight="normal" fill="#111">PD-2/ μM</text>
<text transform="translate(876.22,298.70) scale(0.7174,1)" font-size="22.53" font-weight="bold" fill="#111">F</text>
<text transform="translate(814.09,325.77) scale(1.0362,1)" font-size="18.93" font-weight="normal" fill="#111">PD2+D5+10H</text>
<line x1="952.40" y1="307.60" x2="952.40" y2="316.20" stroke="#111" stroke-width="1.6" stroke-linecap="round"/>
<line x1="948.68" y1="309.75" x2="956.12" y2="314.05" stroke="#111" stroke-width="1.6" stroke-linecap="round"/>
<line x1="956.12" y1="309.75" x2="948.68" y2="314.05" stroke="#111" stroke-width="1.6" stroke-linecap="round"/>
<text transform="translate(717.90,439.60) rotate(-90) scale(1.0388,1) translate(-0.57,0)" font-size="14.00" font-weight="bold" fill="#111">Cell Viability</text>
</svg>
</body></html>
